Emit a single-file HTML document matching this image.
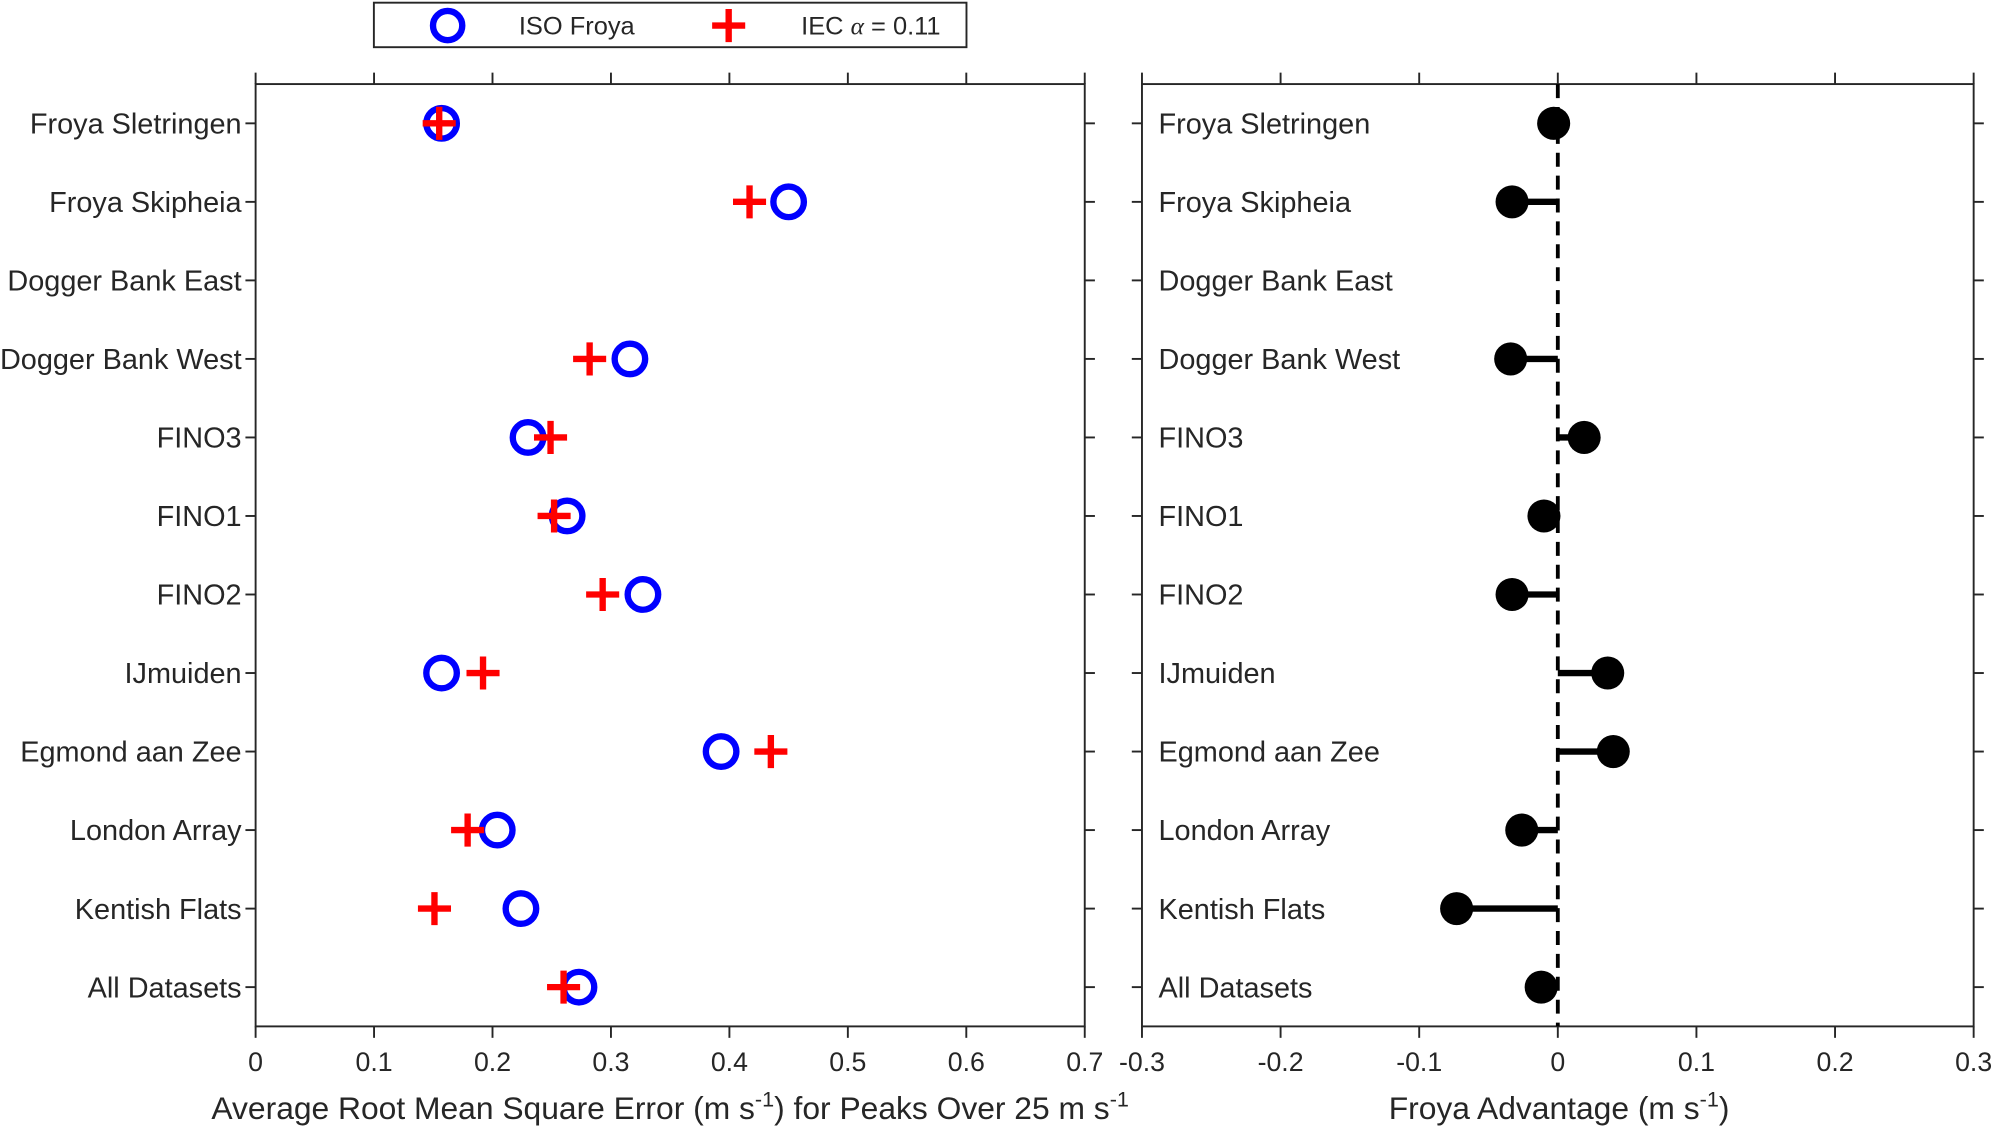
<!DOCTYPE html>
<html><head><meta charset="utf-8"><style>
html,body{margin:0;padding:0;background:#fff}
svg{display:block}
text{font-family:"Liberation Sans",sans-serif;fill:#262626}
</style></head><body>
<svg id="chart" width="1994" height="1127" viewBox="0 0 1568 886" xmlns="http://www.w3.org/2000/svg">
<g id="legend">
<rect x="294" y="2" width="466" height="35" fill="#fff" stroke="#262626" stroke-width="1.5"/>
<circle cx="352" cy="20" r="11.5" fill="none" stroke="#0000ff" stroke-width="5"/>
<text x="408" y="27" font-size="20">ISO Froya</text>
<path d="M573 7V33M560 20H586" stroke="#ff0000" stroke-width="5"/>
<text x="630" y="27" font-size="20">IEC <tspan font-family="Liberation Serif" font-style="italic">α</tspan> = 0.11</text>
</g>
<g id="left"></g>
<g id="right"></g>
</svg>
<script>
const categories=["Froya Sletringen","Froya Skipheia","Dogger Bank East","Dogger Bank West","FINO3","FINO1","FINO2","IJmuiden","Egmond aan Zee","London Array","Kentish Flats","All Datasets"];
const isoValues=[0.157,0.450,null,0.316,0.230,0.263,0.327,0.157,0.393,0.204,0.224,0.273];
const iecValues=[0.155,0.417,null,0.282,0.249,0.252,0.293,0.192,0.435,0.179,0.151,0.260];
const advantageValues=[-0.003,-0.033,null,-0.034,0.019,-0.010,-0.033,0.036,0.040,-0.026,-0.073,-0.012];
const leftTicks=[0,0.1,0.2,0.3,0.4,0.5,0.6,0.7];
const rightTicks=[-0.3,-0.2,-0.1,0,0.1,0.2,0.3];
const tickLabelsRight=["-0.3","-0.2","-0.1","0","0.1","0.2","0.3"];

const NS="http://www.w3.org/2000/svg";
const top_=66,bot=807;
const yScale=i=>top_+(i+0.5)*(bot-top_)/categories.length;
const xL=v=>201+(v-0)/(0.7)*(853-201);
const xR=v=>898+(v+0.3)/0.6*(1552-898);
function mk(tag,attrs,parent,txt){const e=document.createElementNS(NS,tag);for(const k in attrs)e.setAttribute(k,attrs[k]);if(txt!==undefined)e.textContent=txt;parent.appendChild(e);return e;}
const L=document.getElementById('left'),R=document.getElementById('right');
const ax={stroke:"#262626","stroke-width":1.5,fill:"none"};

function frame(g,x0,x1,ticks,xf,labels,name){
  let r=mk('rect',Object.assign({x:x0,y:top_,width:x1-x0,height:bot-top_},ax),g);
  
  
  ticks.forEach((t,i)=>{const x=xf(t);
    mk('line',Object.assign({x1:x,x2:x,y1:bot,y2:bot+9},ax),g);
    mk('line',Object.assign({x1:x,x2:x,y1:top_,y2:top_-9},ax),g);
    const tx=mk('text',{x:x,y:bot+35,"font-size":21,"text-anchor":"middle"},g,labels[i]);
    
    
  });
  categories.forEach((c,i)=>{const y=yScale(i);
    mk('line',Object.assign({x1:x0-8,x2:x0,y1:y,y2:y},ax),g);
    mk('line',Object.assign({x1:x1,x2:x1+8,y1:y,y2:y},ax),g);
  });
}
frame(L,201,853,leftTicks,xL,leftTicks.map(String),'left');
frame(R,898,1552,rightTicks,xR,tickLabelsRight,'right');

categories.forEach((c,i)=>{const y=yScale(i);
  const t1=mk('text',{x:190,y:y+8,"font-size":22.7,"text-anchor":"end"},L,c);
  
  
  const t2=mk('text',{x:911,y:y+8,"font-size":22.7},R,c);
  
  
});

const zl=mk('line',{x1:xR(0),x2:xR(0),y1:top_,y2:bot,stroke:"#000","stroke-width":3,"stroke-dasharray":"11,7"},R);



categories.forEach((c,i)=>{const y=yScale(i);
  if(isoValues[i]!=null){
    const ci=mk('circle',{cx:xL(isoValues[i]),cy:y,r:12,fill:"none",stroke:"#0000ff","stroke-width":5},L);
    
    
  }
  if(iecValues[i]!=null){const x=xL(iecValues[i]);
    const p=mk('path',{d:`M${x} ${y-13}V${y+13}M${x-13} ${y}H${x+13}`,stroke:"#ff0000","stroke-width":5},L);
    
    
  }
  if(advantageValues[i]!=null){const x=xR(advantageValues[i]);
    const s=mk('line',{x1:xR(0),x2:x,y1:y,y2:y,stroke:"#000","stroke-width":5},R);
    
    
    const d=mk('circle',{cx:x,cy:y,r:13,fill:"#000"},R);
    
    
  }
});

const xt1=mk('text',{x:527,y:880,"font-size":25,"text-anchor":"middle"},L);
xt1.innerHTML='Average Root Mean Square Error (m s<tspan dy="-10" font-size="17">-1</tspan><tspan dy="10">) for Peaks Over 25 m s</tspan><tspan dy="-10" font-size="17">-1</tspan>';


const xt2=mk('text',{x:1226,y:880,"font-size":25,"text-anchor":"middle"},R);
xt2.innerHTML='Froya Advantage (m s<tspan dy="-10" font-size="17">-1</tspan><tspan dy="10">)</tspan>';


</script>
</body></html>
